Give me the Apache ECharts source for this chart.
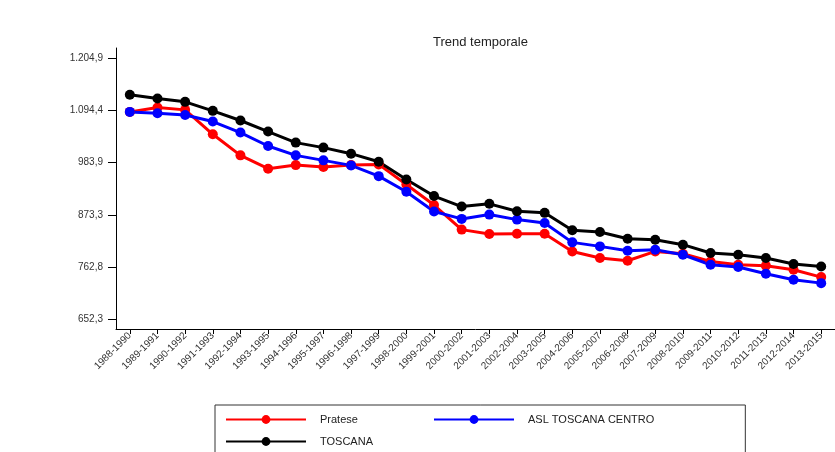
<!DOCTYPE html>
<html>
<head>
<meta charset="utf-8">
<script src="https://cdn.jsdelivr.net/npm/echarts@6/dist/echarts.min.js"></script>
<style>html,body{margin:0;padding:0;background:#fff;}#c{width:835px;height:452px;}</style>
</head>
<body>
<div id="c"></div>
<script>
const categories = ['1988-1990','1989-1991','1990-1992','1991-1993','1992-1994','1993-1995','1994-1996','1995-1997','1996-1998','1997-1999','1998-2000','1999-2001','2000-2002','2001-2003','2002-2004','2003-2005','2004-2006','2005-2007','2006-2008','2007-2009','2008-2010','2009-2011','2010-2012','2011-2013','2012-2014','2013-2015'];
const pratese = [1091.4,1100.8,1095.7,1044.0,999.4,971.2,978.8,974.6,978.8,980.3,937.8,894.2,842.2,833.0,833.6,833.6,796.0,782.0,776.3,796.0,791.2,774.8,767.8,765.7,757.2,741.7];
const aslCentro = [1091.4,1088.7,1085.0,1071.0,1047.7,1019.2,999.4,988.8,978.2,955.4,922.3,880.4,864.9,874.0,863.4,856.4,815.2,806.7,797.5,799.7,789.0,767.8,762.9,748.7,735.9,728.9];
const toscana = [1127.6,1119.9,1112.7,1093.6,1073.2,1049.8,1026.4,1015.8,1003.0,986.0,948.4,913.3,891.0,896.8,881.0,877.7,840.7,837.3,823.0,820.9,810.3,792.7,789.0,782.0,769.3,764.2];
const yTickValues = [652.3, 762.8, 873.3, 983.9, 1094.4, 1204.9];
const yTickLabels = ['652,3', '762,8', '873,3', '983,9', '1.094,4', '1.204,9'];

const FONT = '"Liberation Sans", Arial, sans-serif';
const chart = echarts.init(document.getElementById('c'), null, {renderer: 'canvas'});
function lineSeries(name, data, color) {
  return {
    name: name, type: 'line', data: data,
    symbol: 'circle', symbolSize: 10,
    lineStyle: {color: color, width: 3},
    itemStyle: {color: color},
    emphasis: {disabled: true}
  };
}
chart.setOption({
  animation: false,
  backgroundColor: '#fff',
  title: {
    text: 'Trend temporale', left: 428, top: 31,
    textStyle: {fontFamily: FONT, fontSize: 13, fontWeight: 'normal', color: '#222'}
  },
  legend: {
    left: 215, top: 405,
    width: 560,
    padding: [9, 91, 9, 10],
    borderColor: '#333', borderWidth: 1,
    itemWidth: 80, itemHeight: 11, itemGap: 11,
    textStyle: {fontFamily: FONT, fontSize: 11, color: '#222', width: 102, lineHeight: 11, padding: [0, 0, 0, 9]},
    data: ['Pratese', 'ASL TOSCANA CENTRO', 'TOSCANA']
  },
  grid: {left: 116, top: 48, width: 728, height: 281, containLabel: false},
  xAxis: {
    type: 'category', data: categories, boundaryGap: true,
    axisLine: {show: true, lineStyle: {color: '#000', width: 1}},
    axisTick: {show: true, alignWithLabel: true, length: 5, lineStyle: {color: '#000'}},
    axisLabel: {rotate: 45, fontSize: 10, fontFamily: FONT, color: '#333', margin: 5, interval: 0},
    splitLine: {show: false}
  },
  yAxis: {
    type: 'value', min: 631.8, max: 1226.7,
    axisLine: {show: true, lineStyle: {color: '#000', width: 1}},
    axisTick: {show: true, length: 8, customValues: yTickValues, lineStyle: {color: '#000'}},
    axisLabel: {
      customValues: yTickValues, fontSize: 10, fontFamily: FONT, color: '#333', margin: 13,
      formatter: function (v) {
        const i = yTickValues.findIndex(t => Math.abs(t - v) < 0.01);
        return i >= 0 ? yTickLabels[i] : '';
      }
    },
    splitLine: {show: false}
  },
  series: [
    lineSeries('Pratese', pratese, '#ff0000'),
    lineSeries('ASL TOSCANA CENTRO', aslCentro, '#0000ff'),
    lineSeries('TOSCANA', toscana, '#000000')
  ]
});
</script>
</body>
</html>
